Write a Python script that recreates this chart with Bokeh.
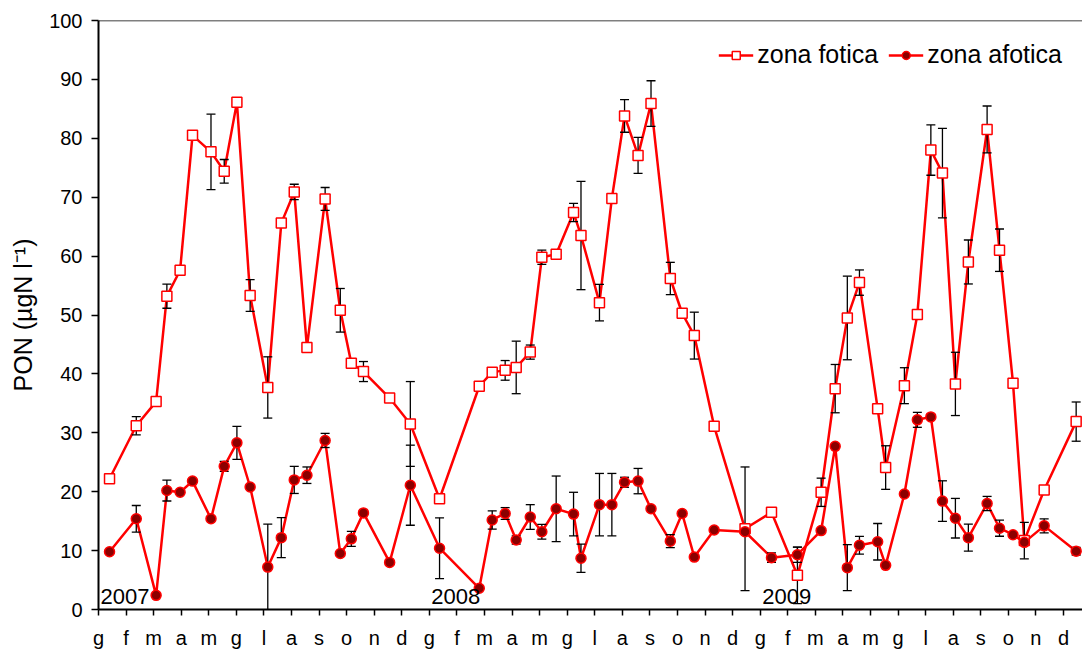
from bokeh.plotting import figure
from bokeh.models import Range1d, FixedTicker, Legend, LegendItem, Label, Span
from bokeh.embed import file_html
from bokeh.resources import INLINE

months = ["g", "f", "m", "a", "m", "g", "l", "a", "s", "o", "n", "d"]
years = ["2007", "2008", "2009"]

# sampling time, in months from the start of January 2007
t = [0.40, 1.37, 2.09, 2.48, 2.96, 3.41, 4.08, 4.56, 5.02, 5.50,
     6.14, 6.63, 7.10, 7.56, 8.22, 8.77, 9.17, 9.61, 10.56, 11.31,
     12.37, 13.81, 14.28, 14.75, 15.15, 15.66, 16.08, 16.60, 17.23, 17.50,
     18.17, 18.62, 19.08, 19.57, 20.04, 20.74, 21.17, 21.61, 22.33, 23.45,
     24.41, 25.35, 26.21, 26.72, 27.16, 27.60, 28.26, 28.55, 29.23, 29.70,
     30.19, 30.61, 31.08, 31.55, 32.23, 32.68, 33.17, 33.58, 34.30, 35.46]

fotica = [22.2, 31.2, 35.3, 53.2, 57.6, 80.5, 77.7, 74.4, 86.1, 53.3,
          37.7, 65.6, 70.9, 44.5, 69.7, 50.8, 41.8, 40.4, 35.9, 31.5,
          18.8, 37.9, 40.3, 40.6, 41.1, 43.7, 59.8, 60.3, 67.4, 63.5,
          52.1, 69.8, 83.8, 77.1, 85.9, 56.2, 50.3, 46.5, 31.1, 13.7,
          16.5, 5.8, 19.9, 37.5, 49.5, 55.5, 34.1, 24.1, 38.0, 50.1,
          78.0, 74.1, 38.3, 59.0, 81.5, 61.0, 38.4, 11.7, 20.3, 31.9]
fotica_err = [0, 1.55, 0, 2.05, 0, 0.8, 6.4, 2.0, 0, 2.7,
              5.2, 0, 1.3, 0, 1.95, 3.7, 0, 1.7, 0, 7.2,
              0, 0, 0, 1.67, 4.46, 1.2, 1.2, 0, 1.55, 9.2,
              3.1, 0, 2.77, 3.05, 3.87, 2.74, 0, 3.98, 0, 10.5,
              0, 4.8, 2.4, 4.1, 7.1, 2.15, 0, 3.7, 3.05, 0,
              4.27, 7.6, 5.37, 3.73, 3.98, 3.6, 0, 3.1, 0, 3.33]

afotica = [9.8, 15.4, 2.4, 20.2, 19.9, 21.8, 15.4, 24.3, 28.3, 20.8,
           7.2, 12.2, 22.0, 22.8, 28.7, 9.5, 12.0, 16.4, 8.0, 21.1,
           10.4, 3.6, 15.2, 16.3, 11.8, 15.7, 13.2, 17.1, 16.2, 8.7,
           17.8, 17.8, 21.6, 21.8, 17.1, 11.6, 16.3, 8.9, 13.5, 13.2,
           8.8, 9.3, 13.4, 27.7, 7.1, 10.9, 11.5, 7.5, 19.6, 32.2,
           32.7, 18.4, 15.5, 12.2, 18.0, 13.8, 12.7, 11.4, 14.2, 9.9]
afotica_err = [0, 2.26, 0, 1.78, 0, 0, 0, 0.85, 2.8, 0,
               7.3, 3.4, 2.3, 1.4, 1.2, 0, 1.27, 0, 0, 6.8,
               5.17, 0, 1.55, 1.0, 0.7, 2.1, 1.25, 5.56, 3.7, 2.4,
               5.3, 5.3, 0.85, 2.15, 0, 1.1, 0, 0, 0, 0,
               0.8, 1.3, 0, 0, 3.9, 1.5, 3.1, 0, 0, 1.27,
               0, 3.45, 3.36, 2.3, 1.2, 1.36, 0, 0, 1.2, 0.65]

FONT = "Liberation Sans"
RED = "#ff0000"

p = figure(width=1082, height=651, x_range=Range1d(0, 35.69), y_range=Range1d(0, 100),
           output_backend="svg", toolbar_location=None,
           min_border_left=98, min_border_right=0, min_border_top=20, min_border_bottom=41)
p.grid.visible = False
p.outline_line_color = None
p.background_fill_color = "white"
p.border_fill_color = "white"

# axes
p.xaxis.ticker = FixedTicker(ticks=list(range(36)))
p.xaxis.major_label_overrides = {i: months[i % 12] for i in range(36)}
p.yaxis.ticker = FixedTicker(ticks=list(range(0, 101, 10)))
for ax in (p.xaxis, p.yaxis):
    ax.axis_line_color = "black"
    ax.axis_line_width = 2
    ax.major_tick_line_color = "black"
    ax.major_tick_line_width = 1.5
    ax.major_tick_in = 0
    ax.minor_tick_line_color = None
    ax.major_label_text_font = FONT
    ax.major_label_text_font_size = "20px"
    ax.major_label_text_color = "black"
p.xaxis.major_tick_out = 6
p.xaxis.major_label_standoff = 11
p.yaxis.major_tick_out = 7
p.yaxis.major_label_standoff = 9
p.yaxis.axis_label = "PON (µgN l⁻¹)"
p.yaxis.axis_label_text_font = FONT
p.yaxis.axis_label_text_font_size = "25px"
p.yaxis.axis_label_text_font_style = "normal"
p.yaxis.axis_label_text_color = "black"
p.yaxis.axis_label_standoff = 9

p.add_layout(Span(location=100, dimension="width", line_color="black", line_width=1.5))

# lines
lf = p.line(t, fotica, line_color=RED, line_width=2.5)
la = p.line(t, afotica, line_color=RED, line_width=2.5)

# error bars
def error_bars(x, y, e):
    xs = [xi for xi, ei in zip(x, e) if ei > 0]
    lo = [yi - ei for yi, ei in zip(y, e) if ei > 0]
    hi = [yi + ei for yi, ei in zip(y, e) if ei > 0]
    p.segment(x0=xs, y0=lo, x1=xs, y1=hi, line_color="black", line_width=1.3)
    p.scatter(x=xs + xs, y=lo + hi, marker="dash", size=9, line_color="black", line_width=1.3)

error_bars(t, fotica, fotica_err)
error_bars(t, afotica, afotica_err)

# markers
sf = p.scatter(t, fotica, marker="square", size=10, fill_color="white", line_color=RED, line_width=1.5)
sa = p.scatter(t, afotica, marker="circle", size=10, fill_color="#8b0000", line_color=RED, line_width=1.5)

legend = Legend(items=[LegendItem(label="zona fotica", renderers=[lf, sf]),
                       LegendItem(label="zona afotica", renderers=[la, sa])],
                orientation="horizontal", location="top_right",
                label_text_font=FONT, label_text_font_size="25px", label_text_color="black",
                glyph_width=35, label_standoff=4, spacing=10,
                background_fill_alpha=0, border_line_color=None, margin=20, padding=10)
p.add_layout(legend)

for i, yr in enumerate(years):
    p.add_layout(Label(x=12 * i, y=0, x_offset=2, y_offset=13, text=yr,
                       text_font=FONT, text_font_size="22px", text_color="black",
                       text_baseline="alphabetic", text_align="left"))

open("out.html", "w").write(file_html(p, INLINE))
